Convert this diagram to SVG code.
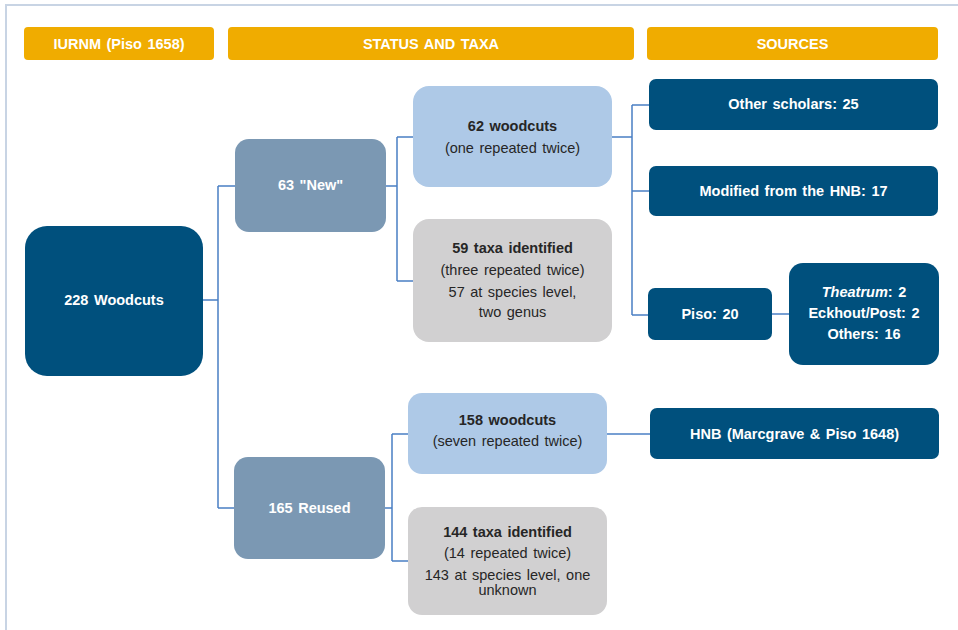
<svg xmlns="http://www.w3.org/2000/svg" width="958" height="630" viewBox="0 0 958 630">
<style>
text{font-family:"Liberation Sans",Arial,sans-serif;font-size:14.5px;word-spacing:1.5px;text-anchor:middle}
.w{fill:#ffffff;font-weight:bold}
.d{fill:#262626}
.b{font-weight:bold}
.hdr{fill:#f0ac00}
.dk{fill:#00507d}
.md{fill:#7b98b3}
.lt{fill:#aec9e7}
.gr{fill:#d1d0d1}
.con path{fill:none;stroke:#4a7fc4;stroke-width:1.5}
.frame{fill:none;stroke:#c8d4e4;stroke-width:2}
</style>
<rect width="958" height="630" fill="#ffffff"/>
<path class="frame" d="M6,630 V5 H958"/>
<g id="hdr-iurnm"><rect class="hdr" x="24" y="27" width="190" height="33" rx="4"/><text class="w" x="119" y="48.5">IURNM (Piso 1658)</text></g>
<g id="hdr-status"><rect class="hdr" x="228" y="27" width="406" height="33" rx="4"/><text class="w" x="431" y="48.5">STATUS AND TAXA</text></g>
<g id="hdr-sources"><rect class="hdr" x="647" y="27" width="291" height="33" rx="4"/><text class="w" x="792.5" y="48.5">SOURCES</text></g>
<g class="con" id="connectors">
<path d="M203,300 H218 M218,186 V508 M218,186 H235 M218,508 H234"/>
<path d="M386,186 H397 M397,137 V281 M397,137 H413 M397,281 H413"/>
<path d="M612,137 H632 M632,105 V315 M632,105 H649 M632,191 H649 M632,315 H648"/>
<path d="M772,314 H789"/>
<path d="M385,508 H392 M392,434 V561 M392,434 H408 M392,561 H408"/>
<path d="M607,434 H650"/>
</g>
<g id="n228"><rect class="dk" x="25" y="226" width="178" height="150" rx="22"/><text class="w" x="114" y="305">228 Woodcuts</text></g>
<g id="nNew"><rect class="md" x="235" y="139" width="151" height="93" rx="14"/><text class="w" x="310.5" y="190">63 "New"</text></g>
<g id="nReused"><rect class="md" x="234" y="457" width="151" height="102" rx="14"/><text class="w" x="309.5" y="513">165 Reused</text></g>
<g id="n62"><rect class="lt" x="413" y="86" width="199" height="101" rx="16"/><text class="d b" x="512.5" y="131">62 woodcuts</text><text class="d" x="512.5" y="153">(one repeated twice)</text></g>
<g id="n59"><rect class="gr" x="413" y="219" width="199" height="123" rx="16"/><text class="d b" x="512.5" y="253">59 taxa identified</text><text class="d" x="512.5" y="275">(three repeated twice)</text><text class="d" x="512.5" y="297">57 at species level,</text><text class="d" x="512.5" y="317">two genus</text></g>
<g id="n158"><rect class="lt" x="408" y="393" width="199" height="81" rx="14"/><text class="d b" x="507.5" y="425">158 woodcuts</text><text class="d" x="507.5" y="446">(seven repeated twice)</text></g>
<g id="n144"><rect class="gr" x="408" y="507" width="199" height="108" rx="14"/><text class="d b" x="507.5" y="537">144 taxa identified</text><text class="d" x="507.5" y="558">(14 repeated twice)</text><text class="d" x="507.5" y="580">143 at species level, one</text><text class="d" x="507.5" y="595">unknown</text></g>
<g id="nOther"><rect class="dk" x="649" y="79" width="289" height="51" rx="7"/><text class="w" x="793.5" y="109">Other scholars: 25</text></g>
<g id="nModified"><rect class="dk" x="649" y="166" width="289" height="50" rx="7"/><text class="w" x="793.5" y="196">Modified from the HNB: 17</text></g>
<g id="nPiso"><rect class="dk" x="648" y="288" width="124" height="52" rx="7"/><text class="w" x="710" y="319">Piso: 20</text></g>
<g id="nTheatrum"><rect class="dk" x="789" y="263" width="150" height="102" rx="14"/><text class="w" x="864" y="297"><tspan font-style="italic">Theatrum</tspan>: 2</text><text class="w" x="864" y="318">Eckhout/Post: 2</text><text class="w" x="864" y="339">Others: 16</text></g>
<g id="nHNB"><rect class="dk" x="650" y="408" width="289" height="51" rx="7"/><text class="w" x="794.5" y="439">HNB (Marcgrave &amp; Piso 1648)</text></g>
</svg>
